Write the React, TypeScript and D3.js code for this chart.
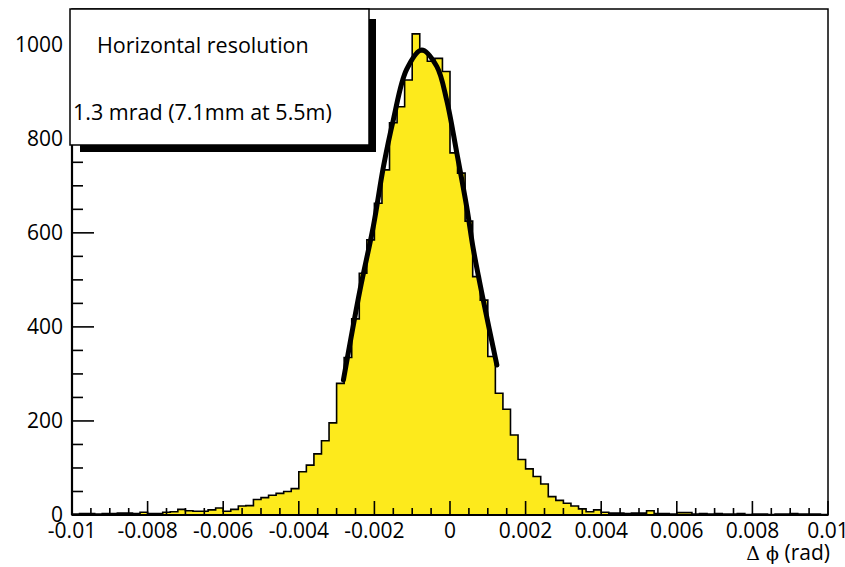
import React, { useEffect, useRef } from "react";
import * as d3 from "d3";

// histogram of delta phi, 100 bins from -0.01 to 0.01 rad
const xRange = [-0.01, 0.01];
const counts = [
  2, 3, 3, 2, 3, 3, 4, 4, 3, 6, 3, 3, 6, 7,
  12, 9, 8, 8, 11, 15, 8, 12, 19, 20,
  33, 37, 42, 46, 50, 56, 92, 106, 130, 158, 196,
  280, 335, 417, 514, 585, 663, 734, 834, 868, 925, 1023,
  985, 965, 971, 943, 770, 727, 625, 507, 457, 337, 259, 225, 170, 118, 98, 82,
  66, 39, 31, 25, 19, 13, 7, 11, 6, 4, 4, 3, 4, 4, 9, 3, 3, 2, 5, 5,
  2, 3, 2, 3, 2, 2, 3, 1, 2, 2, 1, 2, 2, 3, 2, 2, 2, 1,
];

// gaussian fit, points
const fitX = [
  -0.00282, -0.00238, -0.00203, -0.00176, -0.0015, -0.00115, -0.00075,
  -0.00035, -0.00009, 0.00018, 0.00044, 0.00062, 0.00088, 0.00124,
];
const fitY = [287, 479, 613, 741, 840, 947, 989, 954, 883, 770, 656, 564, 457, 319];

const xTicks = [-0.01, -0.008, -0.006, -0.004, -0.002, 0, 0.002, 0.004, 0.006, 0.008, 0.01];
const xTickLabels = ["-0.01", "-0.008", "-0.006", "-0.004", "-0.002", "0", "0.002", "0.004", "0.006", "0.008", "0.01"];
const yTicks = [0, 200, 400, 600, 800, 1000];
const yTickLabels = ["0", "200", "400", "600", "800", "1000"];
const yMax = 1076;

const legendLines = ["Horizontal resolution", "1.3 mrad (7.1mm at 5.5m)"];

function App() {
  const svgRef = useRef(null);

  useEffect(() => {
    const svg = d3.select(svgRef.current);
    svg.selectAll("*").remove();
    const margin = { top: 9, right: 17, bottom: 52, left: 72 };
    const width = 845;
    const height = 567;
    const font = "'Open Sans', sans-serif";

    const x = d3
      .scaleLinear()
      .domain(xRange)
      .range([margin.left, width - margin.right]);
    const y = d3
      .scaleLinear()
      .domain([0, yMax])
      .range([height - margin.bottom, margin.top]);

    const binW = (xRange[1] - xRange[0]) / counts.length;
    const pts = counts.map((c, i) => [xRange[0] + i * binW, c]);
    pts.push([xRange[1], counts[counts.length - 1]]);

    // filled histogram
    svg
      .append("path")
      .datum(pts)
      .attr("fill", "#fdea1c")
      .attr("stroke", "none")
      .attr(
        "d",
        d3
          .area()
          .curve(d3.curveStepAfter)
          .x((d) => x(d[0]))
          .y0(y(0))
          .y1((d) => y(d[1]))
      );

    svg
      .append("path")
      .datum(pts)
      .attr("fill", "none")
      .attr("stroke", "#000")
      .attr("stroke-width", 1.6)
      .attr(
        "d",
        d3
          .line()
          .curve(d3.curveStepAfter)
          .x((d) => x(d[0]))
          .y((d) => y(d[1]))
      );

    // fit curve
    svg
      .append("path")
      .datum(fitX.map((v, i) => [v, fitY[i]]))
      .attr("fill", "none")
      .attr("stroke", "#000")
      .attr("stroke-width", 5)
      .attr("stroke-linecap", "round")
      .attr(
        "d",
        d3
          .line()
          .curve(d3.curveCatmullRom.alpha(0.5))
          .x((d) => x(d[0]))
          .y((d) => y(d[1]))
      );

    // frame
    svg
      .append("rect")
      .attr("x", x(xRange[0]))
      .attr("y", y(yMax))
      .attr("width", x(xRange[1]) - x(xRange[0]))
      .attr("height", y(0) - y(yMax))
      .attr("fill", "none")
      .attr("stroke", "#000")
      .attr("stroke-width", 1.5);
    svg
      .append("line")
      .attr("x1", x(xRange[0]))
      .attr("x2", x(xRange[1]))
      .attr("y1", y(0))
      .attr("y2", y(0))
      .attr("stroke", "#000")
      .attr("stroke-width", 2.2);
    svg
      .append("line")
      .attr("x1", x(xRange[0]))
      .attr("x2", x(xRange[0]))
      .attr("y1", y(0))
      .attr("y2", y(yMax))
      .attr("stroke", "#000")
      .attr("stroke-width", 2.2);

    // x ticks (inside), minor every 0.0005
    const xMinor = d3.range(0, 41).map((i) => xRange[0] + i * 0.0005);
    svg
      .append("g")
      .selectAll("line")
      .data(xMinor)
      .join("line")
      .attr("x1", (d) => x(d))
      .attr("x2", (d) => x(d))
      .attr("y1", y(0))
      .attr("y2", (d, i) => y(0) - (i % 4 === 0 ? 14 : 7))
      .attr("stroke", "#000")
      .attr("stroke-width", 1.6);

    // y ticks, minor every 50
    const yMinor = d3.range(0, 22).map((i) => i * 50);
    svg
      .append("g")
      .selectAll("line")
      .data(yMinor)
      .join("line")
      .attr("x1", x(xRange[0]))
      .attr("x2", (d, i) => x(xRange[0]) + (i % 4 === 0 ? 22 : 11))
      .attr("y1", (d) => y(d))
      .attr("y2", (d) => y(d))
      .attr("stroke", "#000")
      .attr("stroke-width", 1.6);

    // tick labels
    svg
      .append("g")
      .selectAll("text")
      .data(xTicks)
      .join("text")
      .attr("x", (d) => x(d))
      .attr("y", y(0) + 23)
      .attr("text-anchor", "middle")
      .attr("font-family", font)
      .attr("font-size", 21)
      .text((d, i) => xTickLabels[i]);

    svg
      .append("g")
      .selectAll("text")
      .data(yTicks)
      .join("text")
      .attr("x", x(xRange[0]) - 9)
      .attr("y", (d) => y(d) + 7)
      .attr("text-anchor", "end")
      .attr("font-family", font)
      .attr("font-size", 21)
      .text((d, i) => yTickLabels[i]);

    // axis title: greek letters in a serif face like the original
    const title = svg
      .append("text")
      .attr("x", x(xRange[1]) + 2)
      .attr("y", height - 7)
      .attr("text-anchor", "end")
      .attr("font-family", font)
      .attr("font-size", 21);
    title.append("tspan").attr("font-family", "'DejaVu Serif', serif").attr("font-size", 19).text("\u0394 \u03d5");
    title.append("tspan").text(" (rad)");

    // legend with shadow
    const lg = svg.append("g");
    lg.append("rect")
      .attr("x", 80)
      .attr("y", 19)
      .attr("width", 296)
      .attr("height", 133)
      .attr("fill", "#000");
    lg.append("rect")
      .attr("x", 70)
      .attr("y", 9)
      .attr("width", 299)
      .attr("height", 136)
      .attr("fill", "#fff")
      .attr("stroke", "#000")
      .attr("stroke-width", 1.5);
    lg.append("text")
      .attr("x", 97)
      .attr("y", 53)
      .attr("font-family", font)
      .attr("font-size", 21.5)
      .text(legendLines[0]);
    lg.append("text")
      .attr("x", 73)
      .attr("y", 120)
      .attr("font-family", font)
      .attr("font-size", 21.5)
      .text(legendLines[1]);
  }, []);

  return (
    <svg
      ref={svgRef}
      width={845}
      height={567}
      style={{ position: "absolute", left: 0, top: 0, background: "#fff" }}
    ></svg>
  );
}

export default App;
